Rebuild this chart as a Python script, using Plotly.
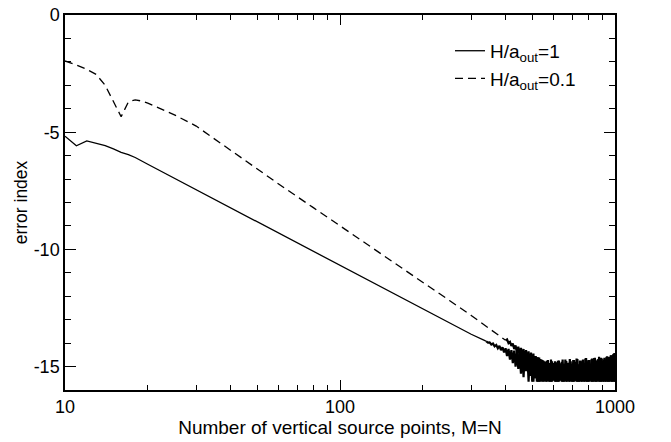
import plotly.graph_objects as go

# ---- data ----
# H/a_out = 1 (solid): smooth part
m_solid = [10, 11, 12, 13, 14, 15, 16, 17, 18, 20, 25, 30, 40, 50, 60, 80, 100, 150, 200, 250, 300, 335, 340]
err_solid = [-5.17, -5.58, -5.37, -5.47, -5.57, -5.71, -5.86, -5.96, -6.08, -6.37, -6.97, -7.46,
             -8.23, -8.82, -9.31, -10.08, -10.68, -11.76, -12.53, -13.13, -13.62, -13.88, -13.92]
# noisy tail, M = 340 ... 1000 step 5
m_solid_tail = list(range(340, 1001, 5))
err_solid_tail = [
    -13.92, -13.98, -13.97, -14.06, -14.02, -14.14, -14.08, -14.22, -14.12, -14.30,
    -14.18, -14.40, -14.22, -14.55, -14.25, -14.70, -14.30, -14.85, -14.32, -15.00,
    -14.35, -15.10, -14.38, -15.30, -14.40, -15.45, -14.42, -15.20, -14.45, -15.65,
    -14.48, -15.40, -14.50, -15.65, -14.55, -15.50, -14.60, -15.65, -14.62, -15.65,
    -14.70, -15.65, -14.75, -15.60, -14.80, -15.65, -14.72, -15.65, -14.85, -15.65,
    -14.78, -15.55, -14.90, -15.65, -14.82, -15.65, -14.75, -15.65, -14.92, -15.60,
    -14.80, -15.65, -14.88, -15.65, -14.70, -15.65, -14.85, -15.55, -14.95, -15.65,
    -14.78, -15.65, -14.90, -15.65, -14.72, -15.60, -14.86, -15.65, -14.68, -15.65,
    -14.92, -15.65, -14.80, -15.65, -14.74, -15.55, -14.88, -15.65, -14.66, -15.65,
    -14.84, -15.65, -14.72, -15.65, -14.90, -15.60, -14.70, -15.65, -14.82, -15.65,
    -14.64, -15.65, -14.86, -15.65, -14.74, -15.55, -14.68, -15.65, -14.80, -15.65,
    -14.62, -15.65, -14.76, -15.65, -14.70, -15.60, -14.84, -15.65, -14.60, -15.65,
    -14.72, -15.65, -14.58, -15.65, -14.66, -15.55, -14.52, -15.65, -14.70, -15.65,
    -14.45, -15.65, -14.55]

# H/a_out = 0.1 (dashed): smooth part
m_dash = [10, 11, 12, 13, 14, 15, 16, 17, 18, 19, 20, 22, 25, 30, 40, 50, 60, 80, 100, 150, 200, 250, 300, 350, 395, 400]
err_dash = [-1.96, -2.13, -2.32, -2.54, -3.00, -3.68, -4.34, -3.71, -3.62, -3.67, -3.76, -3.97,
            -4.26, -4.74, -5.78, -6.58, -7.22, -8.22, -8.99, -10.39, -11.39, -12.18, -12.82, -13.37, -13.80, -13.88]
# noisy tail, M = 400 ... 1000 step 5
m_dash_tail = list(range(400, 1001, 5))
err_dash_tail = [
    -13.88, -13.84, -14.00, -13.95, -14.12, -14.02, -14.25, -14.10, -14.40, -14.15,
    -14.55, -14.20, -14.70, -14.25, -14.90, -14.30, -15.10, -14.35, -15.35, -14.40,
    -15.65, -14.45, -15.50, -14.55, -15.65, -14.60, -15.65, -14.68, -15.60, -14.72,
    -15.65, -14.80, -15.65, -14.75, -15.55, -14.88, -15.65, -14.70, -15.65, -14.85,
    -15.60, -14.78, -15.65, -14.92, -15.65, -14.74, -15.55, -14.86, -15.65, -14.70,
    -15.65, -14.90, -15.60, -14.76, -15.65, -14.84, -15.65, -14.68, -15.55, -14.88,
    -15.65, -14.72, -15.65, -14.80, -15.60, -14.66, -15.65, -14.90, -15.65, -14.74,
    -15.55, -14.82, -15.65, -14.70, -15.65, -14.86, -15.60, -14.64, -15.65, -14.78,
    -15.65, -14.72, -15.55, -14.88, -15.65, -14.66, -15.65, -14.80, -15.60, -14.62,
    -15.65, -14.76, -15.65, -14.70, -15.55, -14.58, -15.65, -14.74, -15.65, -14.66,
    -15.60, -14.80, -15.65, -14.62, -15.65, -14.70, -15.55, -14.56, -15.65, -14.68,
    -15.65, -14.60, -15.60, -14.52, -15.65, -14.64, -15.65, -14.48, -15.55, -14.42,
    -15.65]

x_tickvals = [10, 100, 1000]
x_ticktext = ["10", "100", "1000"]
y_tickvals = [0, -5, -10, -15]
y_ticktext = ["0", "-5", "-10", "-15"]

FONT = "Arial, Liberation Sans, Helvetica, sans-serif"

fig = go.Figure()
fig.add_trace(go.Scatter(
    x=m_solid, y=err_solid, mode="lines", legendgroup="a",
    name="H/a<sub>out</sub>=1",
    line=dict(color="black", width=1.3)))
fig.add_trace(go.Scatter(
    x=m_dash, y=err_dash, mode="lines", legendgroup="b",
    name="H/a<sub>out</sub>=0.1",
    line=dict(color="black", width=1.3, dash="8px,5px")))
# noisy round-off tails (dense, drawn as a thick noisy band)
fig.add_trace(go.Scatter(
    x=m_solid_tail, y=err_solid_tail, mode="lines", legendgroup="a", showlegend=False,
    line=dict(color="black", width=2.2)))
fig.add_trace(go.Scatter(
    x=m_dash_tail, y=err_dash_tail, mode="lines", legendgroup="b", showlegend=False,
    line=dict(color="black", width=2.2)))

axis_common = dict(
    showline=True, linecolor="black", linewidth=1.5, mirror="allticks",
    ticks="inside", tickcolor="black", tickwidth=1, showgrid=False, zeroline=False,
    tickfont=dict(family=FONT, size=18, color="black"),
    ticklabeloverflow="allow",
)

fig.update_xaxes(
    type="log", range=[1, 3], tickvals=x_tickvals, ticktext=x_ticktext, ticklen=10,
    minor=dict(ticks="inside", ticklen=5, tickcolor="black", tickwidth=1, dtick="D1", showgrid=False),
    title=dict(text="Number of vertical source points, M=N", font=dict(family=FONT, size=19, color="black"),
               standoff=0),
    **axis_common)
fig.update_yaxes(
    range=[-16, 0], tickvals=y_tickvals, ticktext=y_ticktext, ticklen=11,
    minor=dict(ticks="inside", ticklen=6, tickcolor="black", tickwidth=1, dtick=1, showgrid=False),
    title=dict(text="error index", font=dict(family=FONT, size=17.5, color="black"), standoff=2),
    **axis_common)

fig.update_layout(
    width=671, height=442,
    margin=dict(l=65, r=56, t=5, b=52),
    paper_bgcolor="white", plot_bgcolor="white",
    font=dict(family=FONT, size=18, color="black"),
    showlegend=True,
    legend=dict(x=0.70, y=0.955, xanchor="left", yanchor="top", bgcolor="rgba(0,0,0,0)",
                font=dict(family=FONT, size=19, color="black"), itemwidth=30,
                tracegroupgap=0),
)

fig.write_html("out.html", config={"displayModeBar": False},
               post_script="document.body.style.margin='0';document.body.style.overflow='hidden';")
